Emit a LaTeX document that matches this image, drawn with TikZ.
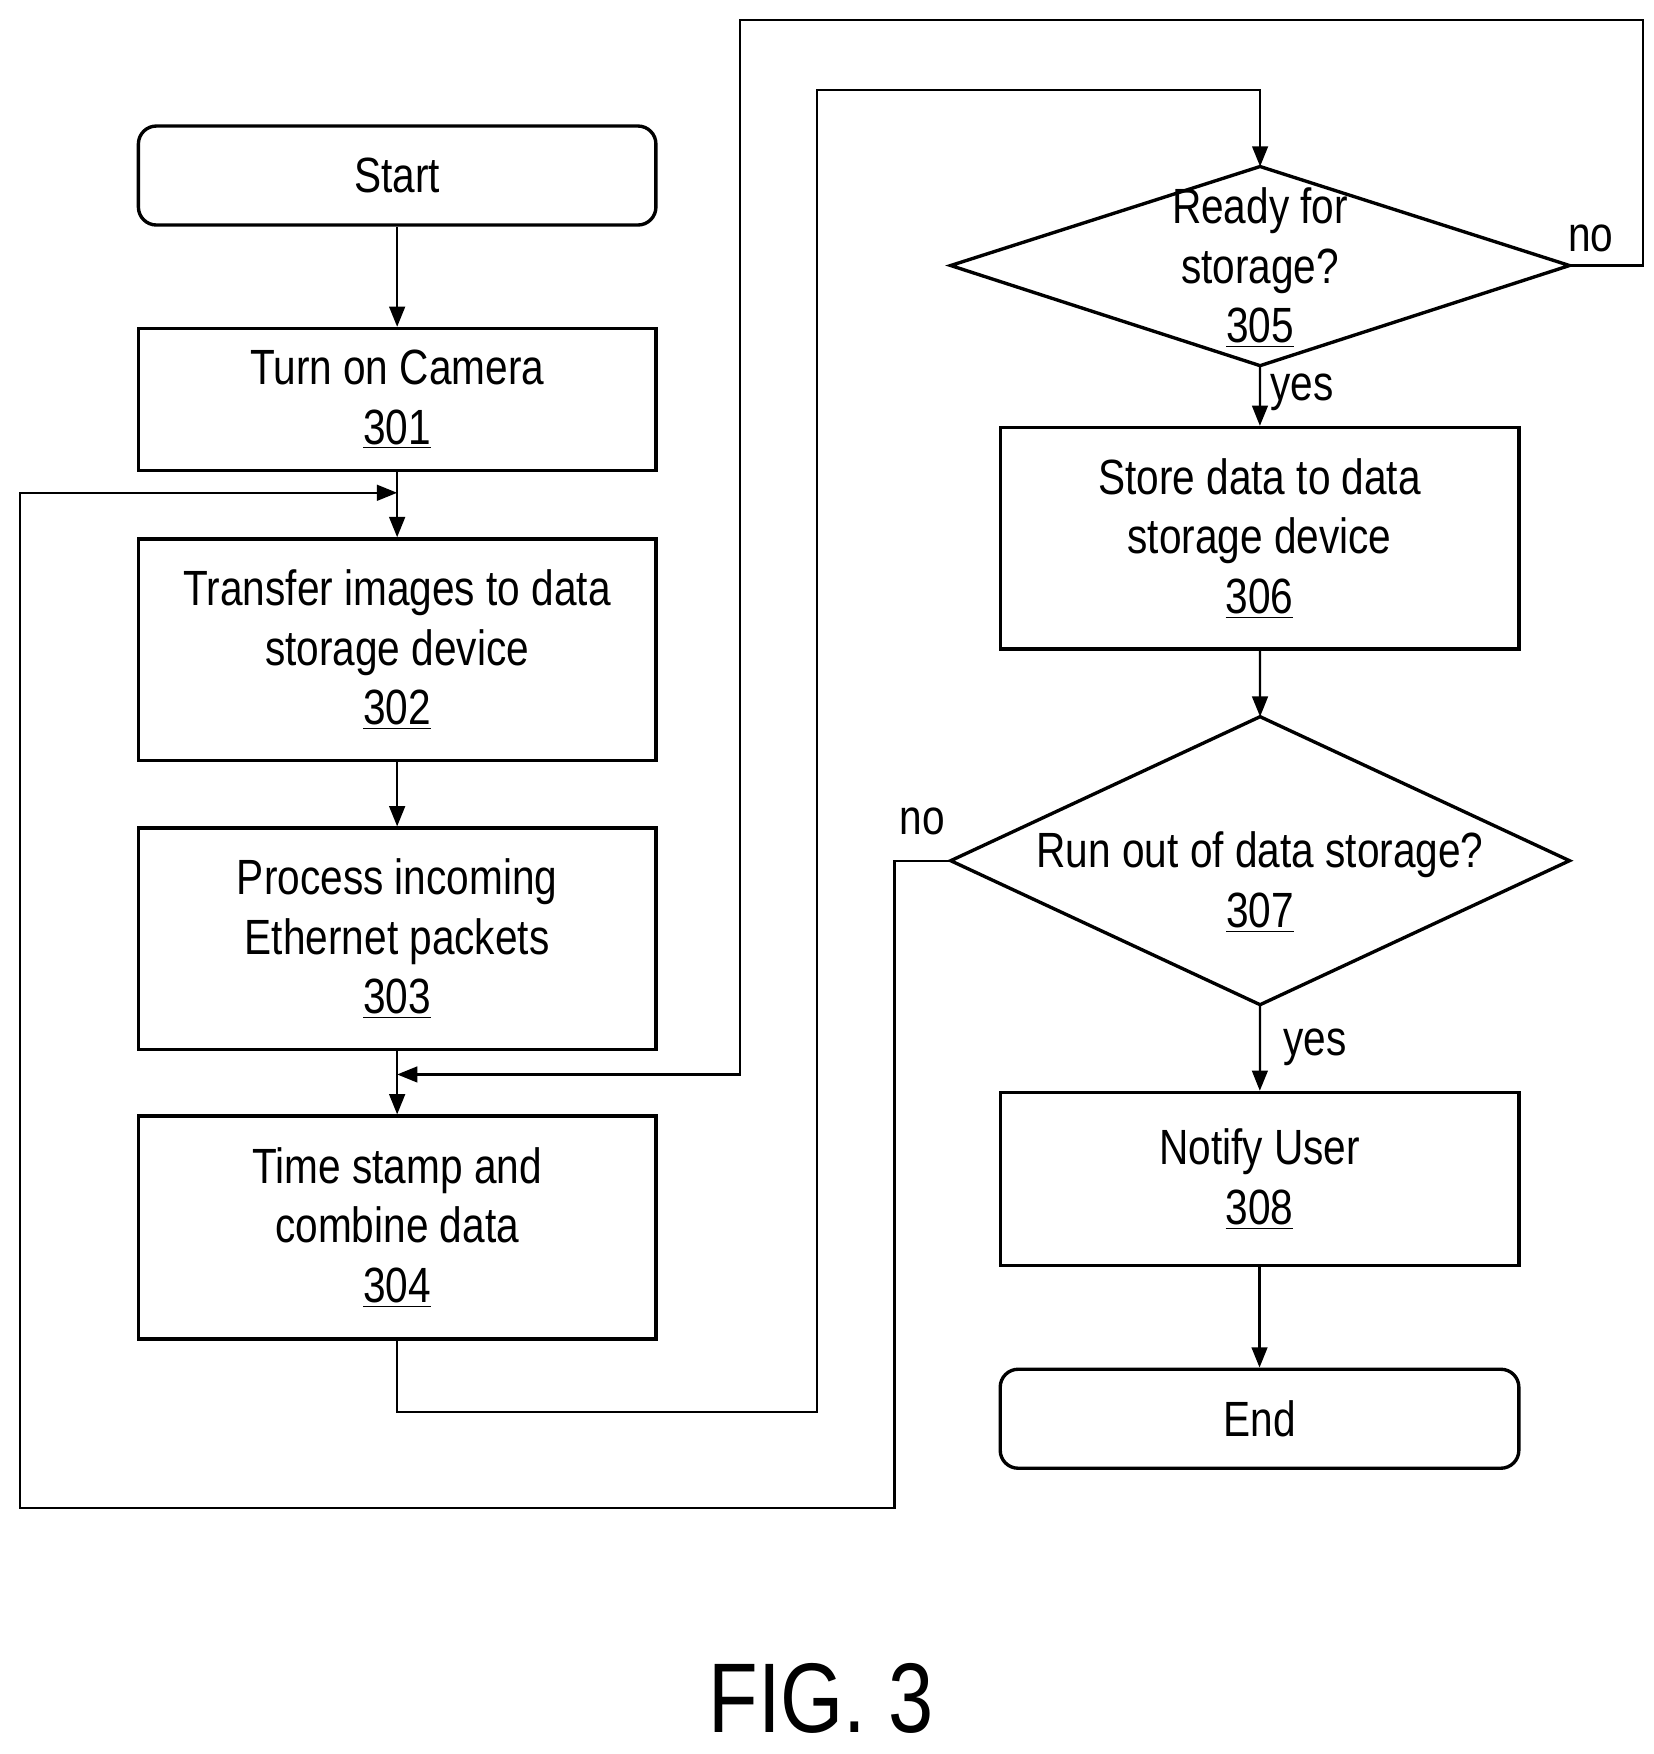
\documentclass[tikz,border=0pt]{standalone}
\usepackage{fontspec}
\setmainfont{Liberation Sans}[FakeStretch=0.82]
\usetikzlibrary{arrows.meta}
\begin{document}
\begin{tikzpicture}[x=0.5pt,y=-0.5pt,
  box/.style={draw,line width=1.5pt,align=center,font=\fontsize{22}{26.5}\selectfont,inner sep=0},
  lbl/.style={font=\fontsize{22}{26.5}\selectfont,inner sep=0,align=center},
  ar/.style={line width=1pt,-{Triangle[length=9pt,width=7pt]}},
  ln/.style={line width=1pt}]
\useasboundingbox (0,0) rectangle (1470,1559);
\newcommand{\ul}[1]{\underline{#1}}
\node[box,rounded corners=8pt,minimum width=230pt,minimum height=44pt] (start) at (353,156) {Start};
\node[box,minimum width=230pt,minimum height=63pt] (b301) at (353,355) {Turn on Camera\\\ul{301}};
\node[box,minimum width=230pt,minimum height=98.5pt] (b302) at (353,577.5) {Transfer images to data\\storage device\\\ul{302}};
\node[box,minimum width=230pt,minimum height=98.5pt] (b303) at (353,834.5) {Process incoming\\Ethernet packets\\\ul{303}};
\node[box,minimum width=230pt,minimum height=99pt] (b304) at (353,1091) {Time stamp and\\combine data\\\ul{304}};
\draw[line width=1.5pt] (845,236) coordinate (d5l) -- (1120,148) coordinate (d5t) -- (1395,236) coordinate (d5r) -- (1120,325) coordinate (d5b) -- cycle;
\node[lbl] (t305) at (1120,238) {Ready for\\storage?\\\ul{305}};
\draw[line width=1.5pt] (845,765) coordinate (d7l) -- (1120,637) coordinate (d7t) -- (1395,765) coordinate (d7r) -- (1120,893) coordinate (d7b) -- cycle;
\node[lbl] (t307) at (1120,784) {Run out of data storage?\\\ul{307}};
\node[box,minimum width=230.5pt,minimum height=98.5pt] (b306) at (1119.5,478.5) {Store data to data\\storage device\\\ul{306}};
\node[box,minimum width=230.5pt,minimum height=77pt] (b308) at (1119.5,1048) {Notify User\\\ul{308}};
\node[box,rounded corners=8pt,minimum width=230.5pt,minimum height=44pt] (end) at (1119.5,1261) {End};
\draw[ar] (start) -- (b301);
\draw[ar] (b301) -- (b302);
\draw[ar] (b302) -- (b303);
\draw[ar] (b303) -- (b304);
\draw[ar] (b304.south) |- (726,1255) |- (1120,80) -- (d5t);
\draw[ar] (d5b) -- (b306) node[lbl,pos=0.45,right=4pt] {yes};
\draw[ar] (b306) -- (d7t);
\draw[ar] (d7b) -- (b308) node[lbl,midway,right=10pt] {yes};
\draw[ar] (b308) -- (end);
\coordinate (m1) at (353,955);
\coordinate (m2) at (353,438);
\draw[ar] (d5r) -- (1460,236) -- (1460,18) -- (658,18) -- (658,955) -- (m1);
\draw[ar] (d7l) -- (795,765) -- (795,1340) -- (18,1340) -- (18,438) -- (m2);
\node[lbl] (no1) at (1414,212) {no};
\node[lbl] (no2) at (820,730) {no};
\node[inner sep=0,font=\fontsize{44}{50}\selectfont] (fig) at (730,1510) {FIG. 3};
\end{tikzpicture}
\end{document}
